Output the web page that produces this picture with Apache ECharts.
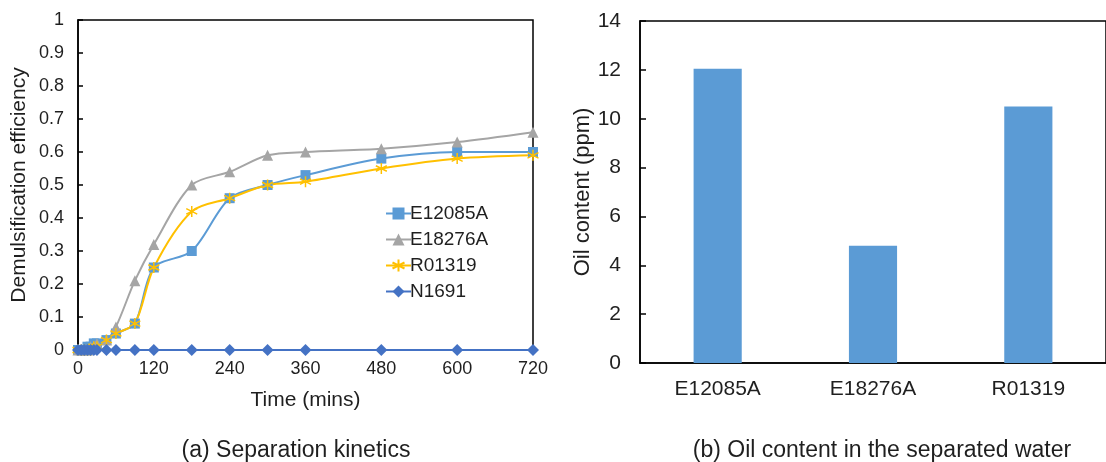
<!DOCTYPE html>
<html>
<head>
<meta charset="utf-8">
<script src="https://cdn.jsdelivr.net/npm/echarts@6/dist/echarts.min.js"></script>
<style>
html,body{margin:0;padding:0;background:#fff;}
#chart{width:1106px;height:462px;}
</style>
</head>
<body>
<div id="chart"></div>
<script>
// ---- Data ----
const times = [0, 5, 10, 15, 20, 25, 30, 45, 60, 90, 120, 180, 240, 300, 360, 480, 600, 720];
const e12085A = [0, 0, 0, 0.01, 0.01, 0.02, 0.02, 0.03, 0.05, 0.08, 0.25, 0.30, 0.46, 0.50, 0.53, 0.58, 0.60, 0.60];
const e18276A = [0, 0, 0, 0, 0.01, 0.01, 0.02, 0.03, 0.07, 0.21, 0.32, 0.50, 0.54, 0.59, 0.60, 0.61, 0.63, 0.66];
const r01319  = [0, 0, 0, 0, 0, 0.01, 0.01, 0.03, 0.05, 0.08, 0.25, 0.42, 0.46, 0.50, 0.51, 0.55, 0.58, 0.59];
const n1691   = [0, 0, 0, 0, 0, 0, 0, 0, 0, 0, 0, 0, 0, 0, 0, 0, 0, 0];
const seriesNames = ['E12085A', 'E18276A', 'R01319', 'N1691'];

const barCategories = ['E12085A', 'E18276A', 'R01319'];
const oilContent = [12.05, 4.8, 10.5];

const captionA = '(a) Separation kinetics';
const captionB = '(b) Oil content in the separated water';

// ---- Chart ----
const FONT = '"Liberation Sans", Arial, sans-serif';
const TXT = '#1f1f1f';
const pair = (xs, ys) => xs.map((x, i) => [x, ys[i]]);
const star = 'path://M0,-10L0,10M-8.66,-5L8.66,5M-8.66,5L8.66,-5';

const chart = echarts.init(document.getElementById('chart'), null, {renderer: 'canvas'});
chart.setOption({
  animation: false,
  backgroundColor: '#fff',
  textStyle: {fontFamily: FONT, color: TXT},
  title: [
    {text: captionA, left: 291, top: 434, textAlign: 'center',
     textStyle: {fontFamily: FONT, fontSize: 23, fontWeight: 'normal', color: TXT}},
    {text: captionB, left: 877, top: 434, textAlign: 'center',
     textStyle: {fontFamily: FONT, fontSize: 23, fontWeight: 'normal', color: TXT}}
  ],
  legend: {
    data: seriesNames,
    orient: 'vertical',
    left: 380, top: 199,
    itemWidth: 25, itemHeight: 15, itemGap: 7,
    textStyle: {fontFamily: FONT, fontSize: 19, color: TXT, padding: [0, 0, 0, -6]}
  },
  grid: [
    {left: 78, top: 20, width: 455, height: 330, show: true, borderColor: '#000', borderWidth: 1.5, backgroundColor: 'transparent'},
    {left: 640, top: 21, width: 478, height: 342, show: true, borderColor: '#000', borderWidth: 1.5, backgroundColor: 'transparent'}
  ],
  xAxis: [
    {type: 'value', gridIndex: 0, min: 0, max: 720, interval: 120,
     name: 'Time (mins)', nameLocation: 'middle', nameGap: 40,
     nameTextStyle: {fontFamily: FONT, fontSize: 21, color: TXT},
     axisLine: {lineStyle: {color: '#000', width: 1.5}},
     axisTick: {show: false}, splitLine: {show: false},
     axisLabel: {fontFamily: FONT, fontSize: 18, color: TXT, margin: 10}},
    {type: 'category', gridIndex: 1, data: barCategories,
     axisLine: {lineStyle: {color: '#000', width: 1.5}},
     axisTick: {show: false}, splitLine: {show: false},
     axisLabel: {fontFamily: FONT, fontSize: 21, color: TXT, margin: 16}}
  ],
  yAxis: [
    {type: 'value', gridIndex: 0, min: 0, max: 1, interval: 0.1,
     name: 'Demulsification efficiency', nameLocation: 'middle', nameGap: 48,
     nameTextStyle: {fontFamily: FONT, fontSize: 21, color: TXT},
     axisLine: {show: true, lineStyle: {color: '#000', width: 1.5}},
     axisTick: {show: true, inside: true, length: 5, lineStyle: {color: '#000', width: 1.5}},
     splitLine: {show: false},
     axisLabel: {fontFamily: FONT, fontSize: 18, color: TXT, margin: 14}},
    {type: 'value', gridIndex: 1, min: 0, max: 14, interval: 2,
     name: 'Oil content (ppm)', nameLocation: 'middle', nameGap: 46,
     nameTextStyle: {fontFamily: FONT, fontSize: 22, color: TXT},
     axisLine: {show: true, lineStyle: {color: '#000', width: 1.5}},
     axisTick: {show: true, inside: true, length: 6, lineStyle: {color: '#000', width: 1.5}},
     splitLine: {show: false},
     axisLabel: {fontFamily: FONT, fontSize: 21, color: TXT, margin: 19}}
  ],
  series: [
    {name: 'E12085A', type: 'line', xAxisIndex: 0, yAxisIndex: 0, data: pair(times, e12085A),
     smooth: 0.3, symbol: 'rect', symbolSize: 10,
     lineStyle: {color: '#5B9BD5', width: 2}, itemStyle: {color: '#5B9BD5'}},
    {name: 'E18276A', type: 'line', xAxisIndex: 0, yAxisIndex: 0, data: pair(times, e18276A),
     smooth: 0.3, symbol: 'triangle', symbolSize: 11,
     lineStyle: {color: '#A5A5A5', width: 2}, itemStyle: {color: '#A5A5A5'}},
    {name: 'R01319', type: 'line', xAxisIndex: 0, yAxisIndex: 0, data: pair(times, r01319),
     smooth: 0.3, symbol: star, symbolSize: 11,
     lineStyle: {color: '#FFC000', width: 2}, itemStyle: {color: '#FFC000', borderColor: '#FFC000', borderWidth: 1.5}},
    {name: 'N1691', type: 'line', xAxisIndex: 0, yAxisIndex: 0, data: pair(times, n1691),
     smooth: 0.3, symbol: 'diamond', symbolSize: 12,
     lineStyle: {color: '#4472C4', width: 2}, itemStyle: {color: '#4472C4'}},
    {name: 'Oil content', type: 'bar', xAxisIndex: 1, yAxisIndex: 1, data: oilContent,
     barWidth: '31%', itemStyle: {color: '#5B9BD5'}}
  ]
});
</script>
</body>
</html>
